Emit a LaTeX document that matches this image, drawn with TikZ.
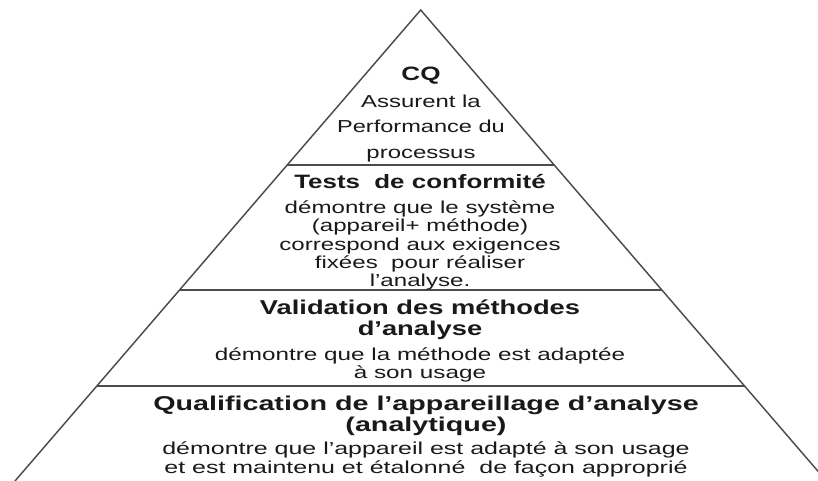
\documentclass[tikz,border=0pt]{standalone}
\usepackage{graphicx}
\usepackage{fontspec}
\setmainfont{Liberation Sans}
\usetikzlibrary{calc}
\newcommand{\sx}[2][1.25]{\scalebox{#1}[1]{#2}}
\begin{document}
\begin{tikzpicture}[x=0.75pt,y=-0.75pt,
  edge/.style={draw=black!70,line width=1.1pt},
  ttl/.style={inner sep=0pt,align=center,text=black!90,font=\fontsize{14.5pt}{15.5pt}\selectfont\bfseries},
  body/.style={inner sep=0pt,align=center,text=black!90,font=\fontsize{13pt}{13.8pt}\selectfont}]
\useasboundingbox (0,0) rectangle (818,481);
\clip (0,0) rectangle (818,481);
\coordinate (apex) at (420.7,10);
\coordinate (BL) at (15,481);
\coordinate (BR) at (826.4,481);
\coordinate (l1) at ($(apex)!0.3291!(BL)$);
\coordinate (r1) at ($(apex)!0.3291!(BR)$);
\coordinate (l2) at ($(apex)!0.5945!(BL)$);
\coordinate (r2) at ($(apex)!0.5945!(BR)$);
\coordinate (l3) at ($(apex)!0.7983!(BL)$);
\coordinate (r3) at ($(apex)!0.7983!(BR)$);
\draw[edge,line join=miter] (BL) -- (apex) -- (BR);
\draw[edge] (l1) -- (r1);
\draw[edge] (l2) -- (r2);
\draw[edge] (l3) -- (r3);

\node[ttl] (cq) at (421,76) {\sx[1.35]{CQ}};
\node[body,font=\fontsize{13pt}{19.3pt}\selectfont] (cqb) at (421,128.5) {\sx[1.38]{Assurent la}\\\sx[1.36]{Performance du}\\\sx[1.38]{processus}};

\node[ttl] (tt) at (420,182) {\sx[1.34]{Tests\ \ de conformité}};
\node[body] (ttb) at (420,245.5) {\sx[1.39]{démontre que le système}\\\sx[1.39]{(appareil+ méthode)}\\\sx[1.39]{correspond aux exigences}\\\sx[1.39]{fixées\ \ pour réaliser}\\\sx[1.39]{l’analyse.}};

\node[ttl,font=\fontsize{15pt}{15.8pt}\selectfont\bfseries] (vt) at (420,319.5) {\sx[1.365]{Validation des méthodes}\\\sx[1.365]{d’analyse}};
\node[body] (vtb) at (420,365) {\sx[1.40]{démontre que la méthode est adaptée}\\\sx[1.40]{à son usage}};

\node[ttl,font=\fontsize{15pt}{15.8pt}\selectfont\bfseries] (qt) at (426,416) {\sx[1.435]{Qualification de l’appareillage d’analyse}\\\sx[1.435]{(analytique)}};
\node[body] (qtb) at (426,459.5) {\sx[1.44]{démontre que l’appareil est adapté à son usage}\\\sx[1.44]{et est maintenu et étalonné\ \ de façon approprié}};
\end{tikzpicture}
\end{document}
